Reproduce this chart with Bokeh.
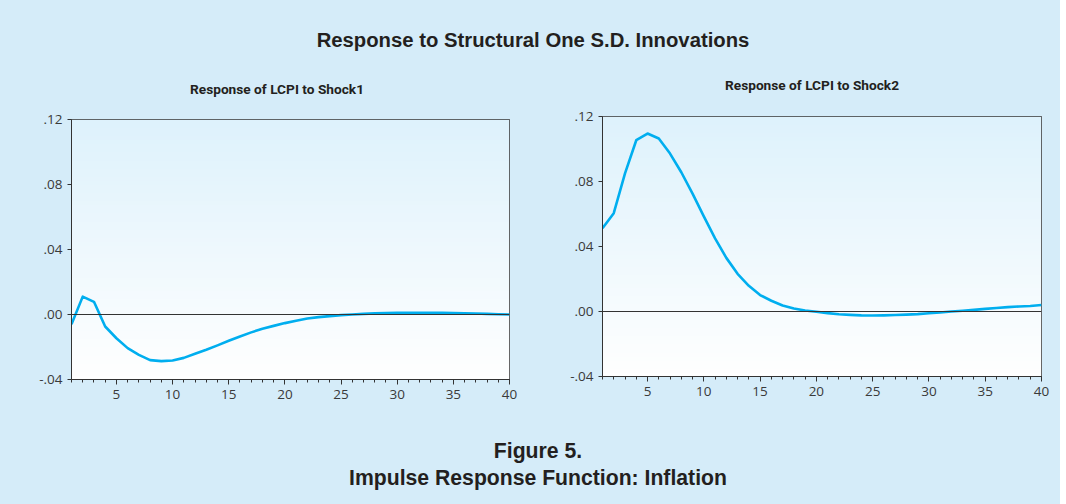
import numpy as np
from bokeh.plotting import figure
from bokeh.layouts import column, row
from bokeh.models import Div, Range1d, FixedTicker, Span, ColumnDataSource
from bokeh.embed import file_html
from bokeh.resources import INLINE

# ---------------- data ----------------
periods = list(range(1, 41))
shock1 = [-0.006, 0.011, 0.0078, -0.0074, -0.0146, -0.0207, -0.0248, -0.0281, -0.0287, -0.0283,
          -0.0267, -0.0242, -0.0217, -0.019, -0.0162, -0.0135, -0.011, -0.0088, -0.007, -0.0053,
          -0.0039, -0.0025, -0.0016, -0.001, -0.0004, 0.0, 0.0004, 0.0007, 0.0009, 0.001,
          0.001, 0.001, 0.001, 0.001, 0.0009, 0.0008, 0.0006, 0.0004, 0.0002, 0.0]
shock2 = [0.0513, 0.0605, 0.0850, 0.1054, 0.1095, 0.1065, 0.0972, 0.0857, 0.0725, 0.0585,
          0.0450, 0.0330, 0.0232, 0.0158, 0.0101, 0.0066, 0.0037, 0.0018, 0.0006, -0.0002,
          -0.001, -0.0017, -0.0021, -0.0024, -0.0025, -0.0024, -0.0022, -0.0019, -0.0016, -0.0011,
          -0.0006, 0.0, 0.0005, 0.001, 0.0016, 0.0022, 0.0027, 0.0031, 0.0034, 0.004]
x_ticks = [5, 10, 15, 20, 25, 30, 35, 40]
y_ticks = [-0.04, 0.0, 0.04, 0.08, 0.12]
y_tick_labels = ["-.04", ".00", ".04", ".08", ".12"]

main_title = "Response to Structural One S.D. Innovations"
sub_titles = ["Response of LCPI to Shock1", "Response of LCPI to Shock2"]
caption1 = "Figure 5."
caption2 = "Impulse Response Function: Inflation"

PANEL = "#d5ecf9"
LINE = "#00aeef"
DARK = "#333333"
TICK_FONT = "Open Sans"

X0, X1 = 1, 40
Y0, Y1 = -0.04, 0.12

# vertical gradient for frame background (light blue top -> white bottom)
n = 64
top = np.array([222, 242, 252]); bot = np.array([255, 255, 255])
grad = np.zeros((n, 2), dtype=np.uint32)
view = grad.view(dtype=np.uint8).reshape((n, 2, 4))
for i in range(n):
    t = i / (n - 1)  # row 0 is bottom
    c = bot * (1 - t) + top * t
    view[i, :, 0] = int(c[0]); view[i, :, 1] = int(c[1]); view[i, :, 2] = int(c[2]); view[i, :, 3] = 255


def make_plot(values, bl, br, bt, bb):
    p = figure(width=525, height=320, x_range=Range1d(X0, X1), y_range=Range1d(Y0, Y1),
               output_backend="svg", toolbar_location=None, tools="",
               min_border_left=bl, min_border_right=br, min_border_top=bt, min_border_bottom=bb)
    p.border_fill_color = PANEL
    p.background_fill_color = "white"
    p.outline_line_color = DARK
    p.outline_line_width = 1
    p.grid.visible = False
    p.image_rgba(image=[grad], x=X0, y=Y0, dw=X1 - X0, dh=Y1 - Y0)

    p.add_layout(Span(location=0, dimension="width", line_color=DARK, line_width=1))
    src = ColumnDataSource(dict(x=periods, y=values))
    p.line("x", "y", source=src, line_color=LINE, line_width=2.6, line_join="round")

    xa = p.xaxis[0]
    xa.ticker = FixedTicker(ticks=x_ticks, minor_ticks=periods)
    ya = p.yaxis[0]
    ya.ticker = FixedTicker(ticks=y_ticks, minor_ticks=[])
    ya.major_label_overrides = {v: s for v, s in zip(y_ticks, y_tick_labels)}
    for ax in (xa, ya):
        ax.axis_line_color = DARK
        ax.major_tick_line_color = DARK
        ax.minor_tick_line_color = DARK
        ax.major_tick_in = 0
        ax.minor_tick_in = 0
        ax.major_label_text_font = TICK_FONT
        ax.major_label_text_font_size = "13.5px"
        ax.major_label_text_color = "#3a3a3a"
    xa.major_tick_out = 5
    xa.minor_tick_out = 3
    xa.major_label_standoff = 5
    ya.major_tick_out = 4
    ya.major_label_standoff = 5
    return p


p1 = make_plot(shock1, 71, 16, 18, 42)
p2 = make_plot(shock2, 77, 9, 15, 45)

sub_style = ("position:absolute;width:300px;text-align:center;font-family:Roboto;font-weight:bold;"
             "font-size:13.7px;line-height:16px;color:#231f20;")
header_html = (
    '<div style="position:relative;width:1050px;height:91px;">'
    f'<div style="position:absolute;top:24px;left:6px;width:1044px;text-align:center;'
    f'font-family:\'Liberation Sans\';font-weight:bold;font-size:20.3px;line-height:23px;'
    f'color:#231f20">{main_title}</div>'
    f'<div style="{sub_style}top:76px;left:122px;">{sub_titles[0]}</div>'
    f'<div style="{sub_style}top:72px;left:657px;">{sub_titles[1]}</div>'
    '</div>'
)
header = Div(text=header_html, width=1050, height=91, styles={"background-color": PANEL})
footer = Div(text=(f'<div style="text-align:center;padding-top:11px;padding-left:16px;'
                   f'font-family:\'Liberation Sans\';font-weight:bold;font-size:21.2px;line-height:27px;'
                   f'color:#231f20">{caption1}<br>{caption2}</div>'),
             width=1050, height=77, styles={"background-color": PANEL, "text-align": "center"})

layout = column(header, row(column(p1, spacing=0), column(p2, spacing=0), spacing=0), footer,
                spacing=0, styles={"background-color": PANEL})

open("out.html", "w").write(file_html(layout, INLINE))
